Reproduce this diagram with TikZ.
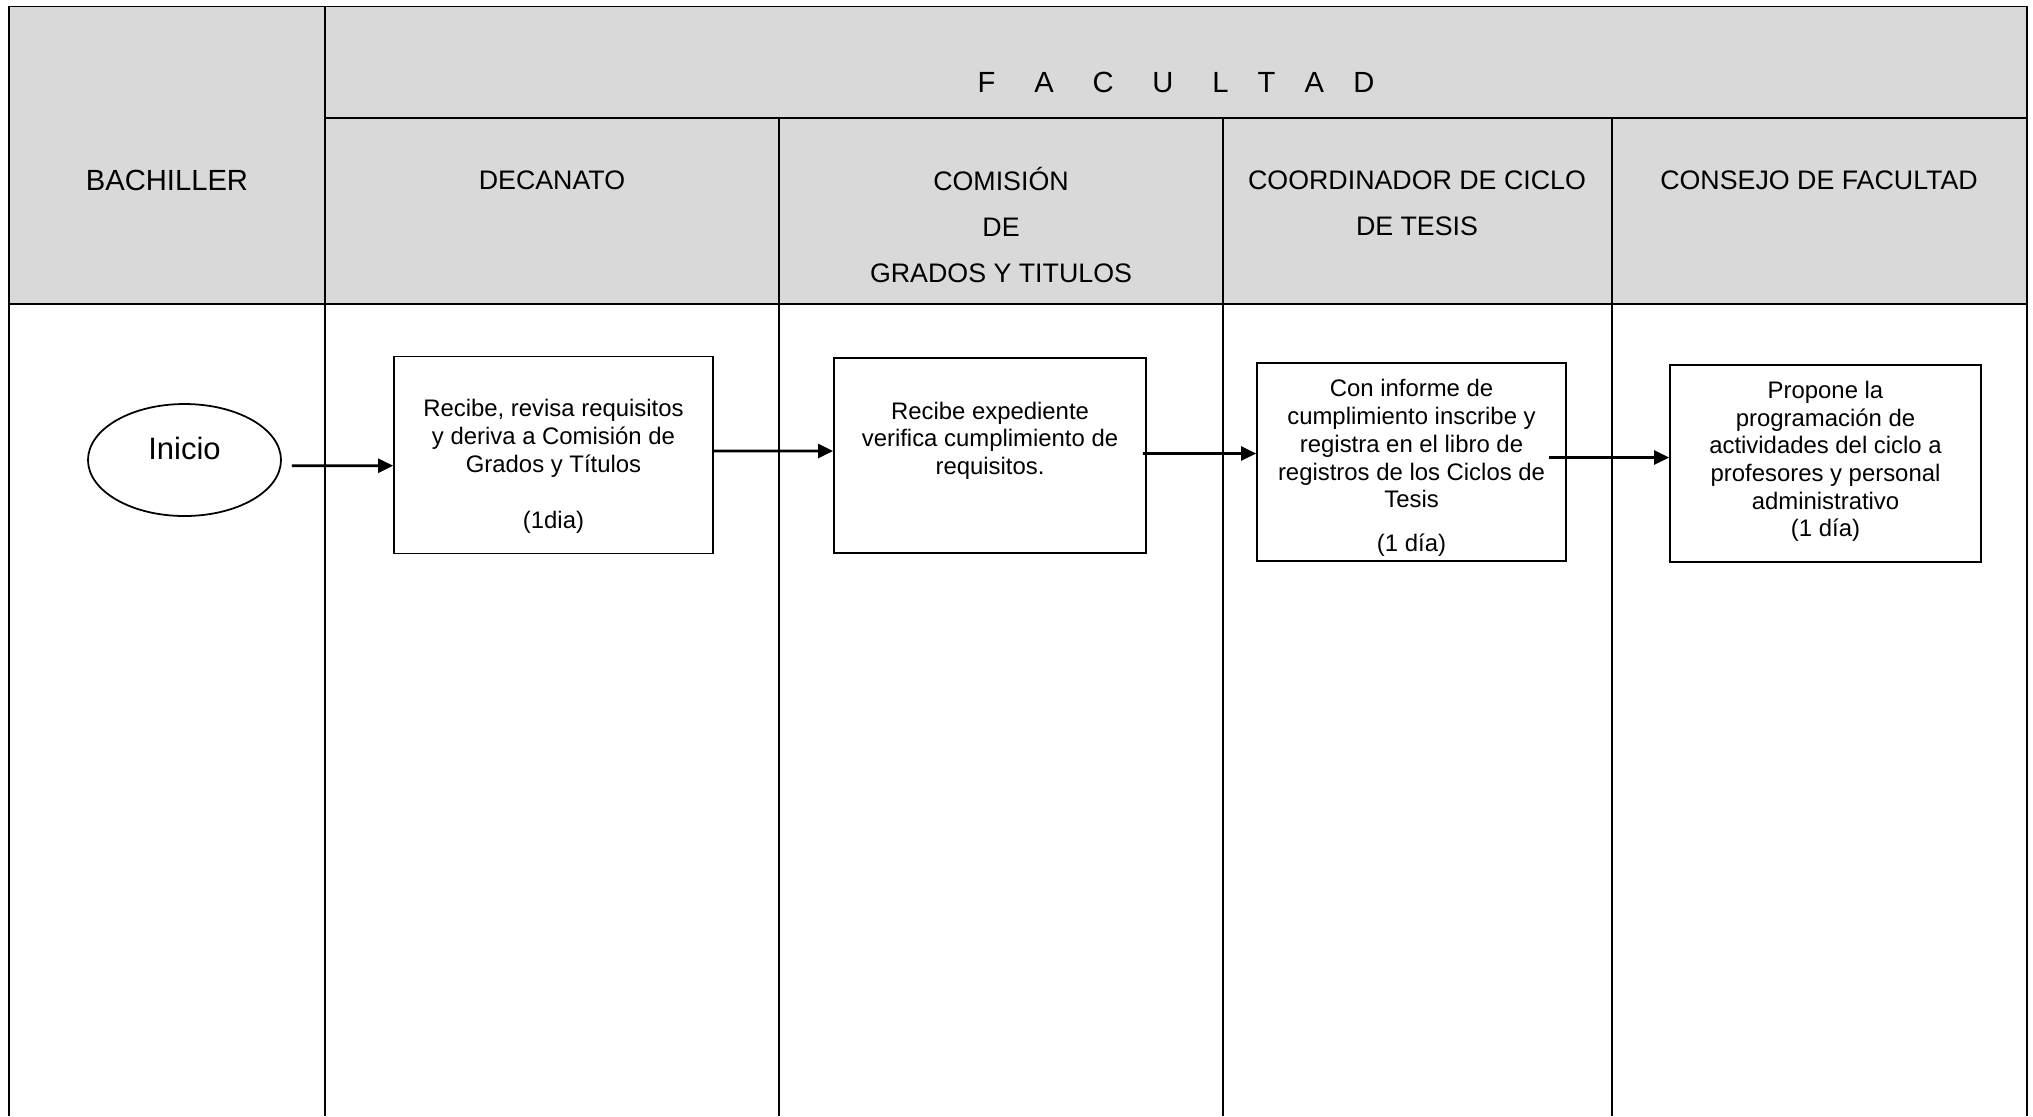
\documentclass[tikz,border=0pt]{standalone}
\usepackage{fontspec}
\setmainfont{Liberation Sans}
\usetikzlibrary{shapes.geometric,arrows.meta}
\definecolor{gris}{HTML}{D9D9D9}

\begin{document}
\begin{tikzpicture}[
    linea/.style={line width=0.45pt},
    titulo/.style={font=\fontsize{7.62}{13.1}\selectfont, align=center},
    titulogrande/.style={font=\fontsize{8.3}{13.1}\selectfont, align=center},
    caja/.style={draw, line width=0.5pt, inner sep=0pt},
    texto/.style={inner sep=0pt, align=center, font=\fontsize{6.8}{7.88}\selectfont},
    inicio/.style={draw, ellipse, line width=0.5pt, inner sep=0pt,
      minimum width=1.93cm, minimum height=1.12cm, text height=0.22cm, text depth=0.24cm,
      font=\fontsize{8.8}{10}\selectfont},
    flecha/.style={-{Triangle[length=0.15cm,width=0.14cm]}, line width=0.75pt}
  ]
  \useasboundingbox (0,0) rectangle (20.33,-11.16);
  % encabezado
  \fill[gris] (0.09,-0.065) rectangle (20.27,-3.04);
  \draw[linea] (0.09,-11.16) -- (0.09,-0.065) -- (20.27,-0.065) -- (20.27,-11.16);
  \draw[linea] (3.25,-0.065) -- (3.25,-11.16);
  \draw[linea] (3.25,-1.18) -- (20.27,-1.18);
  \draw[linea] (7.79,-1.18) -- (7.79,-11.16);
  \draw[linea] (12.23,-1.18) -- (12.23,-11.16);
  \draw[linea] (16.12,-1.18) -- (16.12,-11.16);
  \draw[line width=0.8pt] (0.09,-3.04) -- (20.27,-3.04);
  \draw
    (11.76,-0.82) node[titulogrande] (fac) {F\hspace{1.33em}A\hspace{1.33em}C\hspace{1.33em}U\hspace{1.33em}L\hspace{1em}T\hspace{1em}A\hspace{1em}D}
    (1.67,-1.80) node[titulogrande] (bach) {BACHILLER}
    (5.52,-1.80) node[titulo] (dec) {DECANATO}
    (10.01,-2.25) node[titulo] (com) {COMISIÓN\\DE\\GRADOS Y TITULOS}
    (14.17,-2.03) node[titulo] (coord) {COORDINADOR DE CICLO\\DE TESIS}
    (18.19,-1.80) node[titulo] (cons) {CONSEJO DE FACULTAD};
  % procedimiento
  \draw
    (1.845,-4.60) node[inicio] (ini) {Inicio}
    (5.535,-4.55) node[caja, minimum width=3.19cm, minimum height=1.97cm] (rec) {}
    (9.90,-4.555) node[caja, minimum width=3.12cm, minimum height=1.95cm] (exp) {}
    (14.115,-4.62) node[caja, minimum width=3.09cm, minimum height=1.98cm] (reg) {}
    (18.255,-4.635) node[caja, minimum width=3.11cm, minimum height=1.97cm] (prop) {};
  \draw
    (5.535,-4.665) node[texto] (trec)
      {Recibe, revisa requisitos\\y deriva a Comisión de\\Grados y Títulos\\[0.29cm](1dia)}
    (9.90,-4.405) node[texto] (texp)
      {Recibe expediente\\verifica cumplimiento de\\requisitos.}
    (14.115,-4.68) node[texto] (treg)
      {Con informe de\\cumplimiento inscribe y\\registra en el libro de\\registros de los Ciclos de\\Tesis\\[0.16cm](1 día)}
    (18.255,-4.615) node[texto] (tprop)
      {Propone la\\programación de\\actividades del ciclo a\\profesores y personal\\administrativo\\(1 día)};
  \begin{scope}[flecha]
    \draw ([xshift=0.10cm,yshift=-0.057cm]ini.east) -- ([yshift=-0.107cm]rec.west);
    \draw ([yshift=0.04cm]rec.east) -- ([yshift=0.045cm]exp.west);
    \draw ([xshift=-0.04cm,yshift=0.02cm]exp.east) -- ([yshift=0.085cm]reg.west);
    \draw ([xshift=-0.18cm,yshift=0.045cm]reg.east) -- ([yshift=0.06cm]prop.west);
  \end{scope}
\end{tikzpicture}
\end{document}
